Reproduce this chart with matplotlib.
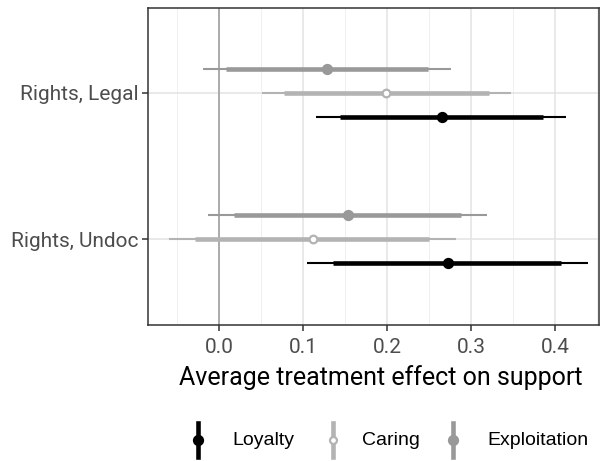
import matplotlib
matplotlib.use('Agg')
import matplotlib.pyplot as plt
from matplotlib.lines import Line2D
from matplotlib.ticker import MultipleLocator

plt.rcParams['font.family'] = ['Roboto', 'DejaVu Sans']

# outcomes (top to bottom) and treatments in dodge order
outcomes = ["Rights, Legal", "Rights, Undoc"]
treatments = ["Loyalty", "Caring", "Exploitation"]

# point estimates and intervals: [outcome][treatment]
estimate = [[0.265, 0.199, 0.129],
            [0.272, 0.112, 0.153]]
ci_inner_lo = [[0.144, 0.078, 0.008],
               [0.136, -0.028, 0.018]]
ci_inner_hi = [[0.385, 0.321, 0.249],
               [0.407, 0.250, 0.288]]
ci_outer_lo = [[0.116, 0.051, -0.019],
               [0.105, -0.059, -0.013]]
ci_outer_hi = [[0.413, 0.347, 0.276],
               [0.439, 0.282, 0.319]]

colors = {"Loyalty": "#000000", "Caring": "#b3b3b3", "Exploitation": "#999999"}
offsets = {"Loyalty": -0.164, "Caring": 0.0, "Exploitation": 0.164}

fig = plt.figure(figsize=(6, 4.61), dpi=100)
ax = fig.add_axes([0.2467, 0.295, 0.7517, 0.6876])

ypos = {"Rights, Legal": 1, "Rights, Undoc": 0}

ax.axvline(0, color="#a6a6a6", lw=1.3, zorder=1)

for i, out in enumerate(outcomes):
    for j, tr in enumerate(treatments):
        y = ypos[out] + offsets[tr]
        c = colors[tr]
        ax.plot([ci_outer_lo[i][j], ci_outer_hi[i][j]], [y, y], color=c, lw=1.5,
                solid_capstyle='butt', zorder=2)
        ax.plot([ci_inner_lo[i][j], ci_inner_hi[i][j]], [y, y], color=c, lw=3.3,
                solid_capstyle='butt', zorder=3)
        face = "white" if tr == "Caring" else c
        ax.plot(estimate[i][j], y, 'o', ms=6.5 if tr != "Caring" else 5.5,
                mfc=face, mec=c, mew=1.6, zorder=4)

ax.set_xlim(-0.0842, 0.452)
ax.set_ylim(-0.589, 1.582)
ax.xaxis.set_major_locator(MultipleLocator(0.1))
ax.xaxis.set_minor_locator(MultipleLocator(0.05))
ax.set_xticks([0.0, 0.1, 0.2, 0.3, 0.4])
ax.set_xticklabels(["0.0", "0.1", "0.2", "0.3", "0.4"])
ax.set_yticks([ypos[o] for o in outcomes])
ax.set_yticklabels(outcomes)

ax.grid(True, which='major', color="#e3e3e3", lw=1.1, zorder=0)
ax.grid(True, which='minor', axis='x', color="#eeeeee", lw=0.6, zorder=0)
ax.set_axisbelow(True)

for s in ax.spines.values():
    s.set_color("#333333")
    s.set_linewidth(1.1)

ax.tick_params(axis='y', which='major', length=4, width=1.1, color="#333333",
               labelsize=15, labelcolor="#4d4d4d", pad=2.5)
ax.tick_params(axis='x', which='major', length=4, width=1.1, color="#333333",
               labelsize=15, labelcolor="#4d4d4d", pad=5)
ax.tick_params(axis='x', which='minor', length=0)

ax.set_xlabel("Average treatment effect on support", fontsize=18, color="black")
ax.xaxis.set_label_coords(0.516, -0.125)

# legend drawn below the panel
legend_items = [("Loyalty", 0.330, 0.387), ("Caring", 0.555, 0.603), ("Exploitation", 0.755, 0.812)]
ly = 1 - 440 / 461
for tr, kx, tx in legend_items:
    c = colors[tr]
    fig.add_artist(Line2D([kx, kx], [ly - 0.036, ly + 0.036], color=c, lw=3.3,
                          transform=fig.transFigure))
    face = "white" if tr == "Caring" else c
    fig.add_artist(Line2D([kx], [ly], marker='o', ms=6.5 if tr != "Caring" else 5.0,
                          mfc=face, mec=c, mew=1.6, transform=fig.transFigure))
    fig.text(tx, ly, tr, fontsize=14, color="black", va='center', ha='left',
             family=['Liberation Sans', 'DejaVu Sans'])

fig.savefig("out.png", dpi=100)
